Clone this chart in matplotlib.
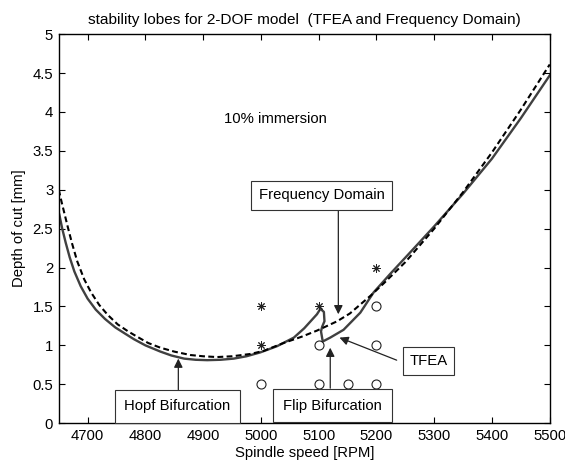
import matplotlib
matplotlib.use("Agg")
import matplotlib.pyplot as plt

plt.rcParams['font.family'] = ['Liberation Sans', 'DejaVu Sans']

# Frequency-domain stability lobe (dashed)
fd_rpm = [4650, 4655, 4660, 4666, 4673, 4682, 4694, 4706, 4720, 4735, 4752, 4770, 4786,
          4805, 4826, 4850, 4878, 4900, 4924, 4950, 4982, 5005, 5039, 5070, 5097, 5132,
          5154, 5190, 5213, 5250, 5300, 5350, 5400, 5450, 5500]
fd_doc = [3.00, 2.84, 2.69, 2.51, 2.31, 2.08, 1.85, 1.68, 1.52, 1.39, 1.27, 1.18, 1.11,
          1.03, 0.97, 0.92, 0.876, 0.86, 0.85, 0.86, 0.89, 0.93, 1.03, 1.11, 1.19, 1.31,
          1.41, 1.64, 1.80, 2.07, 2.50, 2.97, 3.48, 4.03, 4.61]

# TFEA stability boundary (solid)
tf_rpm = [4651, 4656, 4662, 4669, 4677, 4688, 4700, 4714, 4730, 4748, 4765, 4780, 4800,
          4826, 4845, 4867, 4887, 4907, 4930, 4953, 4975, 4999, 5028, 5057, 5075, 5086,
          5097, 5103, 5109, 5110, 5106, 5104, 5107, 5120, 5143, 5172, 5195, 5224, 5259,
          5300, 5350, 5400, 5450, 5500]
tf_doc = [2.68, 2.50, 2.32, 2.13, 1.95, 1.76, 1.60, 1.46, 1.34, 1.23, 1.15, 1.08, 1.00,
          0.92, 0.87, 0.83, 0.815, 0.81, 0.815, 0.83, 0.86, 0.91, 0.99, 1.10, 1.22, 1.31,
          1.40, 1.47, 1.43, 1.31, 1.24, 1.18, 1.05, 1.10, 1.20, 1.42, 1.68, 1.92, 2.20,
          2.53, 2.95, 3.40, 3.92, 4.47]

# simulation points
unstable_rpm = [5000, 5000, 5100, 5200]
unstable_doc = [1.5, 1.0, 1.5, 2.0]
stable_rpm = [5000, 5100, 5100, 5150, 5200, 5200, 5200]
stable_doc = [0.5, 0.5, 1.0, 0.5, 0.5, 1.0, 1.5]

xticks = [4700, 4800, 4900, 5000, 5100, 5200, 5300, 5400, 5500]
yticks = [0, 0.5, 1, 1.5, 2, 2.5, 3, 3.5, 4, 4.5, 5]
ytick_labels = ['0', '0.5', '1', '1.5', '2', '2.5', '3', '3.5', '4', '4.5', '5']

FS = 10.7

fig = plt.figure(figsize=(5.65, 4.61), dpi=100)
ax = fig.add_axes([0.104, 0.082, 0.869, 0.844])

ax.plot(tf_rpm, tf_doc, color='#404040', lw=1.7, solid_joinstyle='round')
ax.plot(fd_rpm, fd_doc, color='black', lw=1.5, linestyle=(0, (2.8, 1.6)))
ax.plot(unstable_rpm, unstable_doc, linestyle='none', marker=(8, 2, 0), ms=6,
        mew=0.7, color='#222222')
ax.plot(stable_rpm, stable_doc, linestyle='none', marker='o', ms=6.5, mew=0.8,
        mfc='none', mec='#222222')

ax.set_xlim(4650, 5500)
ax.set_ylim(0, 5)
ax.set_xticks(xticks)
ax.set_yticks(yticks)
ax.set_yticklabels(ytick_labels)
ax.tick_params(direction='in', length=4, width=0.8, top=True, right=True,
               labelsize=FS, colors='black', pad=4)
for s in ax.spines.values():
    s.set_linewidth(1.0)

ax.set_title('stability lobes for 2-DOF model  (TFEA and Frequency Domain)',
             fontsize=11.1, pad=7)
ax.set_xlabel('Spindle speed [RPM]', fontsize=FS, labelpad=2)
ax.set_ylabel('Depth of cut [mm]', fontsize=FS, labelpad=5)

ax.text(5025, 3.91, '10% immersion', fontsize=FS, ha='center', va='center')

arr = dict(arrowstyle='-|>', color='#222222', lw=0.9, mutation_scale=13,
           shrinkA=0, shrinkB=0)

ax.annotate('', xy=(5134, 1.40), xytext=(5134, 2.74), arrowprops=arr)
ax.text(5105, 2.93, 'Frequency Domain', fontsize=FS, ha='center', va='center',
        bbox=dict(boxstyle='square,pad=0.5', fc='white', ec='#333333', lw=0.8))

ax.annotate('', xy=(5136, 1.10), xytext=(5235, 0.81), arrowprops=arr)
ax.text(5290, 0.80, 'TFEA', fontsize=FS, ha='center', va='center',
        bbox=dict(boxstyle='square,pad=0.45', fc='white', ec='#333333', lw=0.8))

box = dict(boxstyle='square,pad=0.62', fc='white', ec='#333333', lw=0.8)
ax.annotate('', xy=(4857, 0.83), xytext=(4857, 0.43), arrowprops=arr)
ax.text(4855, 0.215, 'Hopf Bifurcation', fontsize=FS, ha='center', va='center',
        bbox=box)

ax.annotate('', xy=(5120, 0.97), xytext=(5120, 0.45), arrowprops=arr)
ax.text(5124, 0.225, 'Flip Bifurcation', fontsize=FS, ha='center', va='center',
        bbox=dict(boxstyle='square,pad=0.66', fc='white', ec='#333333', lw=0.8))

fig.savefig('out.png', dpi=100)
